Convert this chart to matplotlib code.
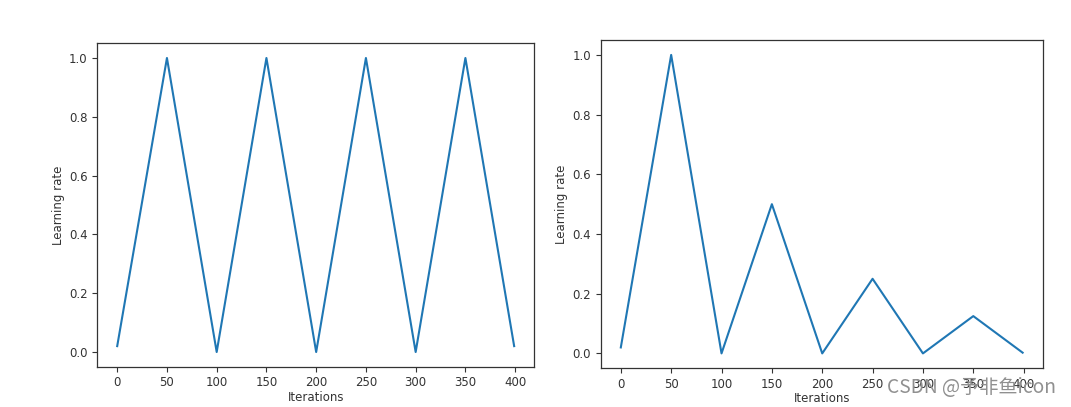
import matplotlib

matplotlib.use("Agg")
import matplotlib.pyplot as plt

# triangular (constant amplitude) schedule
iters_tri = [0, 50, 100, 150, 200, 250, 300, 350, 399]
lr_tri = [0.02, 1.0, 0.0, 1.0, 0.0, 1.0, 0.0, 1.0, 0.02]

# triangular2 (halving amplitude) schedule
iters_tri2 = [0, 50, 100, 150, 200, 250, 300, 350, 399]
lr_tri2 = [0.02, 1.0, 0.0, 0.5, 0.0, 0.25, 0.0, 0.125, 0.0025]

xticks = [0, 50, 100, 150, 200, 250, 300, 350, 400]
yticks = [0.0, 0.2, 0.4, 0.6, 0.8, 1.0]

LINE = "#1f77b4"
INK = "#333333"
FS = 8.5

fig = plt.figure(figsize=(10.71, 4.07), dpi=100, facecolor="white")
ax1 = fig.add_axes([0.0909, 0.099, 0.4077, 0.7946])
ax2 = fig.add_axes([0.5609, 0.095, 0.4127, 0.8067])

for ax, xs, ys in ((ax1, iters_tri, lr_tri), (ax2, iters_tri2, lr_tri2)):
    ax.plot(xs, ys, color=LINE, linewidth=1.5)
    ax.set_xticks(xticks)
    ax.set_yticks(yticks)
    ax.set_yticklabels([f"{v:.1f}" for v in yticks])
    ax.tick_params(labelsize=FS, colors=INK, width=0.8, length=3.5)
    ax.set_xlabel("Iterations", fontsize=FS, color=INK, labelpad=1)
    ax.set_ylabel("Learning rate", fontsize=FS, color=INK, labelpad=3)
    for spine in ax.spines.values():
        spine.set_color(INK)
        spine.set_linewidth(0.9)

# site watermark, sits over the right panel's tick labels as in the source
fig.text(
    0.8285,
    0.047,
    "CSDN @予非鱼icon",
    fontsize=13.8,
    color="#909090",
    ha="left",
    va="center",
    family=["Noto Sans CJK SC", "DejaVu Sans"],
)

fig.savefig("out.png", dpi=100, facecolor="white")
